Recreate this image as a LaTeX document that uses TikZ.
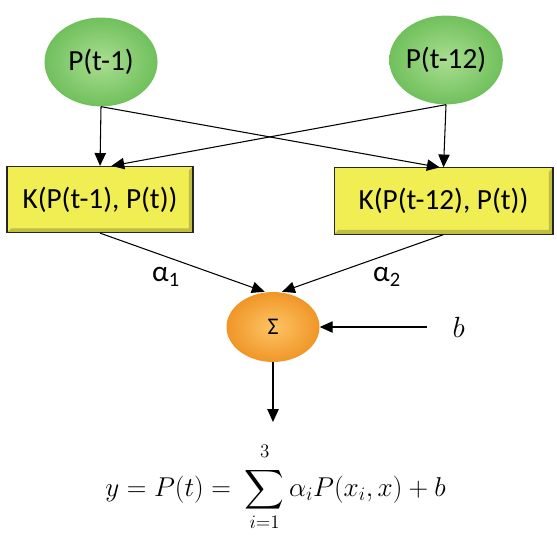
\documentclass[tikz,border=0pt]{standalone}
\usepackage{fix-cm}
\usepackage{exscale}
\usepackage[no-math]{fontspec}
\setmainfont{Carlito}
\usetikzlibrary{arrows.meta,shapes.geometric}

\definecolor{lagin}{RGB}{170,222,145}
\definecolor{lagout}{RGB}{112,192,92}
\definecolor{kernfill}{RGB}{240,238,82}
\definecolor{sumin}{RGB}{253,196,100}
\definecolor{sumout}{RGB}{240,150,40}

\begin{document}
\begin{tikzpicture}[x=1cm,y=1cm,lag/.style={ellipse,inner color=lagin,outer color=lagout,minimum width=29.9mm,minimum height=23.5mm,inner sep=0pt,font=\fontsize{22}{26}\selectfont},kernel/.style={rectangle,draw=black!85,line width=0.8pt,fill=kernfill,minimum height=17.5mm,inner sep=0pt,font=\fontsize{22}{26}\selectfont,path picture={\fill[kernfill!80!black] (path picture bounding box.south west) -- (path picture bounding box.south east) -- (path picture bounding box.north east) -- ([shift={(-1.1mm,-1.1mm)}]path picture bounding box.north east) -- ([shift={(-1.1mm,1.1mm)}]path picture bounding box.south east) -- ([shift={(1.1mm,1.1mm)}]path picture bounding box.south west) -- cycle;}},adder/.style={ellipse,inner color=sumin,outer color=sumout,minimum width=24.6mm,minimum height=18.5mm,inner sep=0pt,font=\fontsize{18}{21}\selectfont},link/.style={line width=0.8pt,-{Triangle[length=3.4mm,width=3mm]}},weight/.style={font=\fontsize{22}{26}\selectfont}]
\useasboundingbox (0,0) rectangle (14.735,14.180);
\coordinate (A) at (2.672,12.540);
\coordinate (B) at (11.799,12.593);
\coordinate (C) at (2.646,8.902);
\coordinate (D) at (11.733,8.862);
\coordinate (S) at (7.222,5.529);
\coordinate (bias) at (11.296,5.529);
\coordinate (out) at (7.222,3.016);
\node[lag] (p1) at (A) {P(t-1)};
\node[lag] (p12) at (B) {P(t-12)};
\node[kernel,minimum width=49.2mm] (k1) at (C) {K(P(t-1), P(t))};
\node[kernel,minimum width=57.9mm] (k12) at (D) {K(P(t-12), P(t))};
\node[adder] (sum) at (S) {Σ};
\node[weight] (a1) at (4.392,6.852) {α\textsubscript{1}};
\node[weight] (a2) at (10.238,6.852) {α\textsubscript{2}};
\node[weight,anchor=base west] (b) at (11.85,5.25) {$b$};
\node[anchor=base west,inner sep=0pt,font=\fontsize{20.5}{24}\selectfont] (eq) at (2.78,1.05) {$\displaystyle y = P(t) = \ \sum_{i=1}^{\raisebox{3pt}{$\scriptstyle 3$}} \alpha_i P(x_i,x) + b$};
\draw[link] (p1.south) -- (k1.north);
\draw[link] (p1.south) -- ([xshift=-1mm]k12.north);
\draw[link] (p12.south) -- (k12.north);
\draw[link] (p12.south) -- ([xshift=3mm]k1.north);
\draw[link] (k1.south) -- ([xshift=-2.2mm]sum.north);
\draw[link] (k12.south) -- ([xshift=2.4mm]sum.north);
\draw[link] (bias) -- (sum.east);
\draw[link] (sum.south) -- (out);
\end{tikzpicture}
\end{document}
